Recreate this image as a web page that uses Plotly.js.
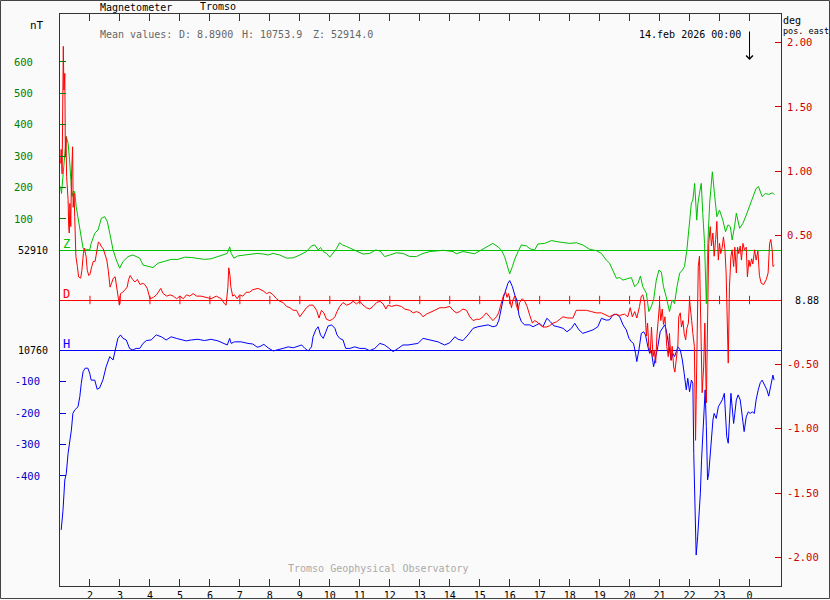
<!DOCTYPE html>
<html><head><meta charset="utf-8">
<script src="https://cdn.plot.ly/plotly-3.0.1.min.js"></script>
<style>html,body{margin:0;padding:0;background:#fafafa}#chart{width:830px;height:600px}</style>
</head><body><div id="chart"></div>
<script>
// ---------------- data ----------------
const station = 'Tromso';
const instrument = 'Magnetometer';
const dateLabel = '14.feb 2026 00:00';
const meanD = 8.8900, meanH = 10753.9, meanZ = 52914.0;
const baseZ = 52910, baseH = 10760, baseD = 8.88;

const hourTickVals = [2,3,4,5,6,7,8,9,10,11,12,13,14,15,16,17,18,19,20,21,22,23,24];
const hourTickText = ['2','3','4','5','6','7','8','9','10','11','12','13','14','15','16','17','18','19','20','21','22','23','0'];
const longHourVals = [1,4,7,10,13,16,19,22,25];
const dBaselineMarks = [0,0,0,0,0,0,0,0,0,0,0,0,0,0,0,0,0,0,0,0,0,0,0];

const zTickVals = [100,200,300,400,500,600];
const zTickText = ['100','200','300','400','500','600'];
const hTickVals = [-100,-200,-300,-400];
const hTickText = ['-100','-200','-300','-400'];
const dTickVals = [2,1.5,1,0.5,-0.5,-1,-1.5,-2];
const dTickText = ['2.00','1.50','1.00','0.50','-0.50','-1.00','-1.50','-2.00'];

// Z: deviation from baseZ, nT
const zT = [1.02,1.05,1.21,1.27,1.32,1.36,1.40,1.44,1.49,1.54,1.62,1.69,1.77,1.88,1.99,2.04,2.16,2.27,2.38,2.49,2.58,2.66,2.77,2.88,2.99,3.10,3.27,3.43,3.54,3.66,3.77,3.93,4.10,4.27,4.49,4.71,4.93,5.16,5.38,5.60,5.82,6.04,6.27,6.49,6.58,6.66,6.71,6.80,6.93,7.16,7.38,7.58,7.78,7.94,8.11,8.33,8.56,8.78,9.00,9.22,9.39,9.50,9.61,9.69,9.78,9.89,10.00,10.11,10.22,10.33,10.42,10.56,10.72,10.89,11.11,11.33,11.53,11.67,11.83,12.00,12.22,12.44,12.67,12.89,13.11,13.33,13.56,13.78,14.11,14.22,14.44,14.67,14.83,15.00,15.22,15.44,15.61,15.72,15.83,15.91,16.00,16.09,16.17,16.28,16.39,16.56,16.67,16.83,16.94,17.17,17.39,17.61,17.78,18.00,18.22,18.44,18.67,18.89,19.06,19.22,19.33,19.44,19.56,19.67,19.78,19.94,20.06,20.17,20.28,20.36,20.44,20.56,20.64,20.72,20.80,20.89,20.98,21.06,21.13,21.22,21.33,21.42,21.50,21.58,21.67,21.76,21.83,21.91,21.98,22.06,22.11,22.17,22.24,22.28,22.33,22.39,22.44,22.50,22.56,22.61,22.67,22.76,22.83,22.91,23.00,23.11,23.20,23.28,23.36,23.42,23.50,23.56,23.67,23.78,23.89,24.00,24.11,24.22,24.30,24.42,24.53,24.64,24.76,24.83];
const zV = [203,181,362,341,288,234,171,187,187,139,96,54,6,3,1,22,54,65,102,107,91,54,1,-31,-57,-36,-20,-15,-20,-25,-47,-52,-55,-41,-36,-29,-29,-22,-23,-25,-29,-27,-20,-15,-10,11,-10,-25,-18,-15,-12,-10,-12,-15,-10,-15,-25,-24,-15,-4,14,17,1,9,-4,-10,-22,-10,5,24,17,12,5,-2,-12,-10,1,-2,-20,-15,-8,-10,-20,-20,-10,-4,-2,0,-4,-11,-4,-8,-11,-2,11,22,11,1,-20,-47,-75,-52,-28,-4,17,14,5,1,20,22,31,27,24,22,24,17,3,-1,-10,-31,-41,-63,-89,-87,-95,-90,-87,-116,-105,-82,-116,-137,-195,-180,-158,-95,-63,-70,-116,-148,-195,-158,-170,-116,-73,-63,-52,1,75,150,160,213,96,150,181,213,118,22,-170,22,150,250,181,107,128,96,59,81,75,33,75,118,70,86,112,139,166,197,203,171,181,178,183,178];

// D: deviation from baseD, degrees
const dT = [1.02,1.04,1.07,1.09,1.11,1.13,1.16,1.18,1.20,1.22,1.27,1.29,1.31,1.33,1.36,1.38,1.42,1.44,1.47,1.49,1.51,1.53,1.58,1.62,1.69,1.73,1.78,1.81,1.87,1.91,1.96,2.00,2.06,2.11,2.17,2.22,2.28,2.33,2.39,2.44,2.50,2.56,2.61,2.67,2.72,2.78,2.84,2.89,2.94,2.98,3.02,3.09,3.17,3.24,3.29,3.34,3.42,3.50,3.58,3.67,3.76,3.83,3.91,4.00,4.11,4.22,4.36,4.44,4.56,4.67,4.78,4.89,5.00,5.11,5.22,5.33,5.44,5.56,5.71,5.88,6.04,6.21,6.38,6.49,6.54,6.60,6.63,6.67,6.70,6.76,6.82,6.91,6.99,7.10,7.21,7.32,7.43,7.61,7.78,7.89,8.00,8.11,8.22,8.33,8.44,8.56,8.67,8.78,8.89,9.00,9.11,9.22,9.33,9.44,9.56,9.64,9.72,9.80,9.89,10.00,10.09,10.17,10.24,10.33,10.44,10.56,10.67,10.78,10.89,11.00,11.11,11.22,11.33,11.44,11.56,11.67,11.78,11.87,11.94,12.06,12.22,12.39,12.50,12.67,12.78,12.89,13.00,13.11,13.22,13.33,13.50,13.67,13.83,14.00,14.11,14.22,14.33,14.44,14.56,14.67,14.78,14.89,15.00,15.11,15.22,15.33,15.44,15.56,15.63,15.69,15.76,15.80,15.87,15.91,15.96,16.00,16.06,16.11,16.17,16.22,16.28,16.33,16.42,16.50,16.58,16.67,16.76,16.83,16.91,17.00,17.11,17.22,17.33,17.44,17.56,17.67,17.78,17.94,18.11,18.22,18.39,18.56,18.72,18.89,19.06,19.22,19.33,19.50,19.67,19.83,19.94,20.02,20.09,20.17,20.24,20.33,20.39,20.44,20.50,20.56,20.60,20.64,20.69,20.73,20.78,20.82,20.87,20.91,20.96,21.00,21.04,21.09,21.13,21.18,21.24,21.29,21.33,21.38,21.42,21.47,21.51,21.56,21.61,21.64,21.69,21.73,21.78,21.82,21.87,21.91,21.96,22.00,22.03,22.07,22.11,22.16,22.20,22.24,22.29,22.33,22.38,22.42,22.47,22.51,22.56,22.60,22.64,22.69,22.73,22.78,22.82,22.87,22.91,22.96,23.00,23.04,23.09,23.13,23.18,23.22,23.26,23.29,23.33,23.38,23.42,23.47,23.51,23.56,23.60,23.64,23.69,23.73,23.78,23.83,23.89,23.93,23.98,24.02,24.07,24.11,24.17,24.22,24.28,24.33,24.39,24.47,24.56,24.62,24.67,24.71,24.76,24.78,24.83];
const dV = [1.06,1.17,0.98,1.50,1.97,1.63,1.76,1.11,1.27,0.96,0.78,0.57,0.52,0.75,0.57,0.93,1.19,0.72,0.83,0.65,0.47,0.34,0.26,0.18,0.17,0.23,0.36,0.40,0.34,0.23,0.19,0.20,0.26,0.30,0.30,0.38,0.45,0.44,0.41,0.40,0.36,0.31,0.23,0.10,0.13,0.17,0.18,0.10,-0.01,-0.04,0.05,0.06,0.08,0.10,0.16,0.19,0.16,0.14,0.16,0.12,0.13,0.12,0.09,0.01,0.02,0.04,0.09,0.05,0.03,0.04,0.03,0.01,0.03,0.01,0.04,0.03,0.05,0.03,0.03,0.02,0.01,0.03,0.01,-0.03,-0.04,0.10,0.25,0.19,0.10,0.03,0.04,0.01,0.04,0.03,0.06,0.06,0.08,0.09,0.07,0.05,0.06,0.04,0.01,-0.01,-0.02,-0.05,-0.06,-0.08,-0.08,-0.13,-0.09,-0.06,-0.04,-0.04,-0.08,-0.14,-0.08,-0.10,-0.15,-0.16,-0.15,-0.13,-0.09,-0.05,-0.02,-0.04,-0.03,-0.01,-0.03,-0.01,-0.04,-0.06,-0.07,-0.05,-0.02,-0.01,-0.03,-0.07,-0.04,-0.05,-0.04,-0.05,-0.07,-0.08,-0.10,-0.09,-0.10,-0.13,-0.11,-0.10,-0.08,-0.06,-0.06,-0.05,-0.08,-0.10,-0.09,-0.07,-0.08,-0.13,-0.16,-0.15,-0.15,-0.13,-0.10,-0.13,-0.16,-0.13,-0.10,-0.05,0.00,0.04,0.06,0.02,0.05,0.00,-0.06,0.00,0.03,-0.04,-0.08,-0.02,0.01,-0.01,-0.05,-0.12,-0.18,-0.16,-0.17,-0.19,-0.21,-0.21,-0.20,-0.18,-0.17,-0.15,-0.13,-0.14,-0.14,-0.08,-0.08,-0.08,-0.09,-0.10,-0.10,-0.12,-0.13,-0.11,-0.12,-0.11,-0.13,-0.06,-0.13,-0.09,-0.14,-0.05,0.03,0.04,-0.02,-0.28,-0.18,-0.36,-0.41,-0.21,-0.44,-0.39,-0.49,-0.28,-0.13,-0.03,-0.16,-0.07,-0.19,-0.13,-0.36,-0.44,-0.26,-0.47,-0.36,-0.52,-0.56,-0.42,-0.35,-0.13,-0.10,-0.21,-0.16,-0.26,-0.31,-0.22,-0.18,0.00,-0.10,-0.16,-0.26,-0.36,-1.09,-0.47,0.26,0.34,-0.21,-0.72,-0.52,-0.18,-0.80,-0.08,0.44,0.57,0.42,0.52,0.34,0.47,0.61,0.31,0.44,0.36,0.41,0.49,0.39,0.21,-0.34,-0.49,0.10,0.34,0.39,0.26,0.41,0.21,0.41,0.36,0.42,0.31,0.44,0.39,0.41,0.18,0.31,0.26,0.32,0.28,0.39,0.31,0.38,0.19,0.13,0.12,0.16,0.21,0.44,0.47,0.38,0.26,0.27];

// H: deviation from baseH, nT
const hT = [1.04,1.10,1.16,1.21,1.27,1.32,1.38,1.43,1.49,1.60,1.66,1.71,1.77,1.84,1.93,1.99,2.04,2.16,2.24,2.32,2.43,2.54,2.66,2.77,2.84,2.93,3.02,3.10,3.21,3.32,3.43,3.54,3.66,3.77,3.88,4.04,4.21,4.38,4.54,4.71,4.88,5.04,5.21,5.38,5.60,5.82,6.04,6.27,6.49,6.58,6.66,6.71,6.82,7.04,7.27,7.43,7.58,7.67,7.80,7.94,8.11,8.28,8.44,8.61,8.78,8.94,9.06,9.17,9.28,9.39,9.44,9.53,9.61,9.69,9.78,9.87,9.94,10.06,10.17,10.24,10.33,10.44,10.53,10.67,10.83,11.00,11.17,11.33,11.50,11.67,11.83,11.98,12.11,12.28,12.44,12.61,12.78,12.94,13.11,13.28,13.44,13.61,13.67,13.83,14.00,14.17,14.28,14.44,14.61,14.78,14.94,15.11,15.28,15.44,15.56,15.64,15.72,15.80,15.87,15.94,16.00,16.09,16.17,16.24,16.31,16.39,16.50,16.67,16.78,16.89,17.00,17.11,17.24,17.36,17.47,17.61,17.78,17.91,18.06,18.17,18.31,18.44,18.61,18.78,18.94,19.06,19.22,19.33,19.44,19.56,19.67,19.78,19.89,19.98,20.06,20.13,20.20,20.24,20.31,20.39,20.47,20.53,20.61,20.67,20.72,20.80,20.87,20.94,21.02,21.11,21.17,21.22,21.31,21.39,21.44,21.50,21.56,21.61,21.69,21.76,21.82,21.89,21.94,22.00,22.06,22.11,22.14,22.18,22.20,22.22,22.27,22.31,22.36,22.40,22.44,22.49,22.52,22.56,22.60,22.64,22.69,22.73,22.78,22.82,22.89,22.96,23.02,23.09,23.16,23.20,23.24,23.29,23.33,23.38,23.42,23.47,23.51,23.56,23.62,23.69,23.76,23.82,23.89,23.96,24.02,24.09,24.16,24.22,24.29,24.36,24.42,24.50,24.58,24.64,24.71,24.78,24.82];
const hV = [-572,-509,-413,-392,-328,-296,-254,-201,-190,-180,-148,-105,-68,-57,-57,-73,-95,-95,-124,-120,-95,-52,-20,-31,1,38,49,38,33,6,1,6,6,22,31,33,49,43,33,43,38,33,30,33,35,31,35,30,22,17,38,22,27,27,22,20,10,12,19,8,-2,1,6,11,8,13,17,6,-2,11,43,65,75,49,38,59,77,81,70,49,38,33,6,6,11,6,6,-1,6,22,17,6,-4,6,17,17,19,22,38,35,31,27,24,17,24,43,35,31,49,70,75,78,81,75,78,96,139,171,192,213,222,203,176,160,112,91,81,81,75,81,86,75,102,91,78,75,70,59,70,86,65,54,59,65,75,102,96,97,112,115,107,81,65,38,27,22,-10,-36,1,54,59,49,11,-10,1,-52,-20,11,59,75,81,65,11,-31,-10,-20,-4,11,1,-31,-73,-126,-89,-132,-95,-105,-328,-455,-562,-652,-594,-540,-455,-349,-264,-137,-126,-243,-413,-392,-328,-264,-222,-201,-217,-180,-169,-158,-137,-201,-275,-296,-201,-137,-180,-233,-201,-158,-142,-158,-212,-259,-212,-196,-201,-196,-201,-158,-126,-103,-95,-110,-126,-146,-116,-79,-95];

// ---------------- styling / layout ----------------
const FONT = 'DejaVu Sans Mono, monospace';
const GREEN = '#00c000', RED = '#ff0000', BLUE = '#0000ff';
const PL = 60, PR = 781, PT = 14, PB = 586;
const px2X = px => (px - PL) / (PR - PL);
const px2Y = py => (PB - py) / (PB - PT);

const traces = [
  {x: zT, y: zV, yaxis: 'y', type: 'scatter', mode: 'lines', line: {color: GREEN, width: 1}, name: 'Z'},
  {x: hT, y: hV, yaxis: 'y2', type: 'scatter', mode: 'lines', line: {color: BLUE, width: 1}, name: 'H'},
  {x: dT, y: dV, yaxis: 'y3', type: 'scatter', mode: 'lines', line: {color: RED, width: 1}, name: 'D'},
  {x: hourTickVals, y: dBaselineMarks, yaxis: 'y3', type: 'scatter', mode: 'markers',
   marker: {symbol: 'line-ns-open', size: 6, color: RED, line: {color: RED, width: 1}}, name: 'marks'}
];

function txt(text, x, y, opts) {
  return Object.assign({text: text, x: x, y: y, xref: 'paper', yref: 'paper', showarrow: false,
    xanchor: 'left', yanchor: 'middle', borderpad: 0, borderwidth: 0,
    font: {family: FONT, size: 10, color: '#000'}}, opts || {});
}

const annotations = [
  txt(station, px2X(200), px2Y(7)),
  txt('nT', px2X(30), px2Y(25), {font: {family: FONT, size: 11, color: '#000'}}),
  txt('Mean values:', px2X(100), px2Y(34), {font: {family: FONT, size: 10, color: '#666'}}),
  txt('D: ' + meanD.toFixed(4), px2X(179), px2Y(34), {font: {family: FONT, size: 10, color: '#666'}}),
  txt('H: ' + meanH.toFixed(1), px2X(242), px2Y(34), {font: {family: FONT, size: 10, color: '#666'}}),
  txt('Z: ' + meanZ.toFixed(1), px2X(313), px2Y(34), {font: {family: FONT, size: 10, color: '#666'}}),
  txt(dateLabel, px2X(741), px2Y(34), {xanchor: 'right'}),
  txt('deg', px2X(783), px2Y(21)),
  txt('pos. east', px2X(783), px2Y(30.5), {font: {family: FONT, size: 8.5, color: '#000'}}),
  txt(String(baseZ), px2X(48), 0, {yref: 'y', xanchor: 'right'}),
  txt(String(baseH), px2X(48), 0, {yref: 'y2', xanchor: 'right'}),
  txt(baseD.toFixed(2), px2X(795), 0, {yref: 'y3'}),
  txt('Z', px2X(63), 0, {yref: 'y', yshift: 6, font: {family: FONT, size: 12, color: GREEN}}),
  txt('D', px2X(63), 0, {yref: 'y3', yshift: 6, font: {family: FONT, size: 12, color: RED}}),
  txt('H', px2X(63), 0, {yref: 'y2', yshift: 6, font: {family: FONT, size: 12, color: BLUE}}),
  txt('Tromso Geophysical Observatory', px2X(378), px2Y(568.5), {xanchor: 'center', font: {family: FONT, size: 10, color: '#aaaaaa'}}),
  {text: '', x: 24, xref: 'x', y: px2Y(60), yref: 'paper', showarrow: true, ax: 0, ay: -30,
   arrowhead: 4, arrowsize: 1.3, arrowwidth: 1, arrowcolor: '#000'}
];

const layout = {
  width: 830, height: 600, autosize: false,
  margin: {l: PL, r: 830 - PR, t: PT, b: 600 - PB, pad: 0},
  paper_bgcolor: '#fafafa', plot_bgcolor: '#fafafa',
  showlegend: false,
  font: {family: FONT, size: 10, color: '#000'},
  title: {text: instrument, xref: 'container', x: 100 / 830, xanchor: 'left',
          yref: 'container', y: 1 - 7 / 600, yanchor: 'middle', pad: {t: 0, b: 0, l: 0, r: 0},
          font: {family: FONT, size: 10, color: '#000'}},
  xaxis: {range: [1, 25.05], tickmode: 'array', tickvals: hourTickVals, ticktext: hourTickText,
          ticks: 'inside', ticklen: 7, tickwidth: 1, tickcolor: '#333',
          showline: true, linecolor: '#333', linewidth: 1, mirror: 'ticks',
          showgrid: false, zeroline: false, tickfont: {family: FONT, size: 10, color: '#000'}},
  xaxis2: {overlaying: 'x', anchor: 'y', range: [1, 25.05], tickmode: 'array', tickvals: longHourVals,
           ticks: 'inside', ticklen: 11, tickwidth: 1, tickcolor: '#333', showticklabels: false,
           showline: false, mirror: 'ticks', showgrid: false, zeroline: false},
  yaxis: {range: [-1069.1, 752.5], tickmode: 'array', tickvals: zTickVals, ticktext: zTickText,
          ticks: 'inside', ticklen: 6, tickwidth: 1, tickcolor: '#008000',
          showline: true, linecolor: '#333', linewidth: 1, mirror: false,
          showgrid: false, zeroline: true, zerolinecolor: GREEN, zerolinewidth: 1,
          ticklabelstandoff: 24, tickfont: {family: FONT, size: 10.5, color: '#008000'}},
  yaxis2: {overlaying: 'y', side: 'left', anchor: 'x', range: [-750.6, 1071.0], tickmode: 'array',
           tickvals: hTickVals, ticktext: hTickText,
           ticks: 'inside', ticklen: 6, tickwidth: 1, tickcolor: '#0000cc', showline: false,
           showgrid: false, zeroline: true, zerolinecolor: BLUE, zerolinewidth: 1,
           ticklabelstandoff: 19, tickfont: {family: FONT, size: 10.5, color: '#0000cc'}},
  yaxis3: {overlaying: 'y', side: 'right', anchor: 'x', range: [-2.2214, 2.2214], tickmode: 'array',
           tickvals: dTickVals, ticktext: dTickText,
           ticks: 'inside', ticklen: 6, tickwidth: 1, tickcolor: '#cc0000',
           showline: true, linecolor: '#333', linewidth: 1,
           showgrid: false, zeroline: true, zerolinecolor: RED, zerolinewidth: 1,
           ticklabelstandoff: 3, tickfont: {family: FONT, size: 10.5, color: '#cc0000'}},
  annotations: annotations,
  shapes: [
    {type: 'rect', xref: 'paper', yref: 'paper', x0: px2X(0.5), x1: px2X(829.5), y0: px2Y(598.5), y1: px2Y(0.5),
     line: {color: '#444', width: 1}, fillcolor: 'rgba(0,0,0,0)', layer: 'above'}
  ]
};

Plotly.newPlot('chart', traces, layout, {staticPlot: true, displayModeBar: false});
</script>
</body></html>
